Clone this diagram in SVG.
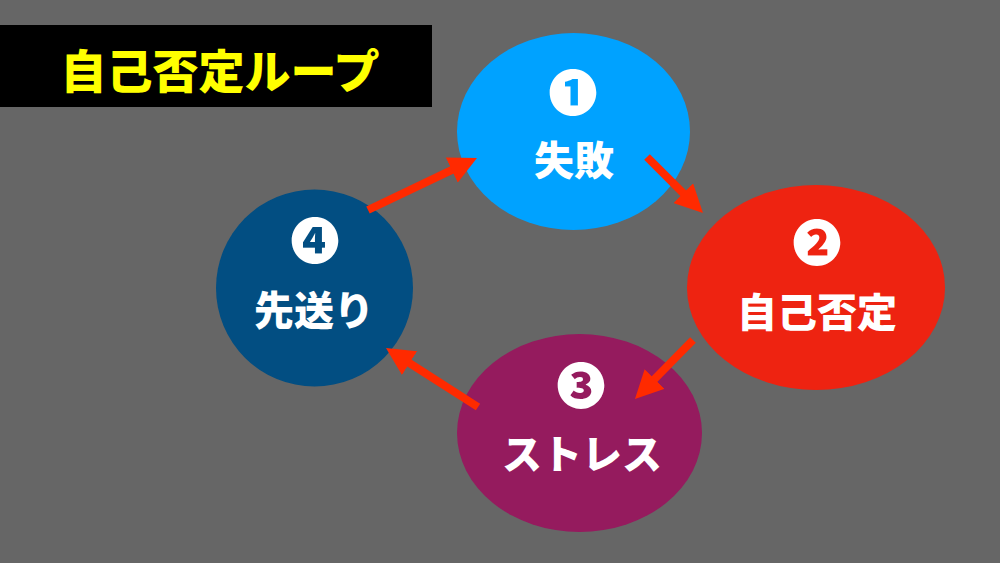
<svg xmlns="http://www.w3.org/2000/svg" width="1000" height="563" viewBox="0 0 1000 563">
  <style>
    .lbl { font-family: "Noto Sans CJK JP", "Noto Sans", sans-serif; font-weight: 900; fill: #ffffff; text-anchor: middle; font-size: 40px; }
    .num { font-family: "Noto Sans CJK JP", "DejaVu Sans", sans-serif; font-weight: 900; fill: #ffffff; text-anchor: middle; font-size: 49px; }
    .title { font-family: "Noto Sans CJK JP", "Noto Sans", sans-serif; font-weight: 900; fill: #ffff00; text-anchor: middle; font-size: 46px; }
    .arrow { stroke: #ff2a00; stroke-width: 8; fill: none; marker-end: url(#head); }
  </style>
  <defs>
    <marker id="head" markerUnits="userSpaceOnUse" markerWidth="28" markerHeight="28" viewBox="0 0 28 28" refX="1" refY="14" orient="auto">
      <path d="M0,0 L28,14 L0,28 z" fill="#ff2a00"/>
    </marker>
  </defs>
  <rect x="0" y="0" width="1000" height="563" fill="#666666"/>
  <g id="title">
    <rect x="0" y="25" width="432" height="82" fill="#000000"/>
    <text class="title" x="220" y="88">自己否定ループ</text>
  </g>
  <g id="node1">
    <ellipse cx="573.5" cy="131.5" rx="116.5" ry="98.5" fill="#00a2ff"/>
    <text class="num" x="573" y="111">❶</text>
    <text class="lbl" x="574" y="175">失敗</text>
  </g>
  <g id="node2">
    <ellipse cx="816" cy="287.5" rx="129" ry="102.5" fill="#ee2311"/>
    <text class="num" x="817" y="261">❷</text>
    <text class="lbl" x="817" y="327">自己否定</text>
  </g>
  <g id="node3">
    <ellipse cx="579.5" cy="433" rx="122.5" ry="99" fill="#951b5e"/>
    <text class="num" x="581" y="404">❸</text>
    <text class="lbl" x="582" y="469">ストレス</text>
  </g>
  <g id="node4">
    <circle cx="314.5" cy="288" r="98.5" fill="#024e82"/>
    <text class="num" x="315" y="259">❹</text>
    <text class="lbl" x="314" y="325">先送り</text>
  </g>
  <g id="connectors">
    <line class="arrow" x1="368" y1="210" x2="452.6" y2="169.6"/>
    <line class="arrow" x1="647" y1="157" x2="683.9" y2="193.9"/>
    <line class="arrow" x1="693" y1="340" x2="653.9" y2="379.7"/>
    <line class="arrow" x1="478" y1="407" x2="408.7" y2="362.6"/>
  </g>
</svg>
